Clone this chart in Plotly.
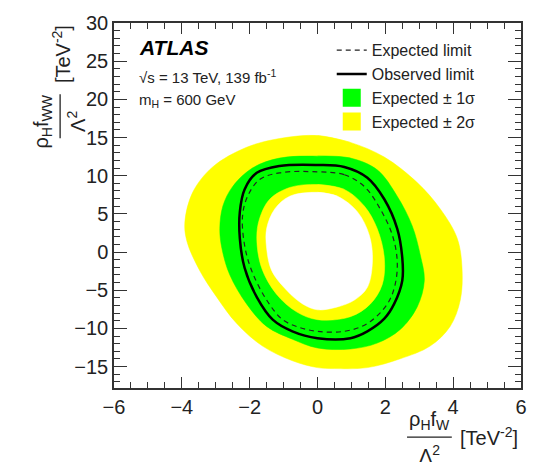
import plotly.graph_objects as go

# ---- data (x: rho_H f_W / Lambda^2, y: rho_H f_WW / Lambda^2, TeV^-2) ----
# outer boundary of the +-2 sigma band
band2_outer_x = [0, 0.97, 1.97, 2.94, 3.62, 4.12, 4.26, 4.21, 3.91, 3.32, 2.44, 1.47, 0.50, 0.0,
                 -0.74, -1.62, -2.38, -2.97, -3.47, -3.85, -3.91, -3.68, -3.09, -2.09, -1.12]
band2_outer_y = [15.26, 14.36, 12.44, 9.10, 5.64, 1.79, -2.05, -6.28, -9.74, -12.31, -13.97, -15.13, -15.26, -15.13,
                 -14.23, -12.31, -9.36, -5.90, -2.44, 1.41, 3.97, 7.82, 11.15, 13.72, 14.87]
# outer boundary of the +-1 sigma band
band1_outer_x = [0, 0.97, 1.76, 2.35, 2.79, 3.03, 3.15, 2.94, 2.44, 1.76, 0.97, 0.0,
                 -0.74, -1.50, -2.09, -2.59, -2.82, -2.88, -2.79, -2.50, -1.91, -1.12]
band1_outer_y = [12.56, 12.31, 10.77, 7.31, 3.46, -0.38, -3.72, -7.18, -10.13, -11.92, -12.69, -12.56,
                 -11.41, -9.74, -6.79, -2.95, 0.51, 3.08, 6.03, 8.59, 11.03, 12.31]
# inner boundary of the +-1 sigma band
band1_inner_x = [0, 0.79, 1.38, 1.76, 1.97, 1.91, 1.56, 0.97, 0.0, -0.62, -1.21, -1.65, -1.79, -1.71, -1.41, -0.82]
band1_inner_y = [8.85, 8.21, 6.03, 3.08, -0.77, -4.23, -6.79, -8.46, -8.85, -7.82, -5.51, -2.05, 1.79, 4.36, 6.92, 8.46]
# inner boundary of the +-2 sigma band
band2_inner_x = [0, 0.59, 1.18, 1.53, 1.62, 1.47, 1.09, 0.59, 0.0, -0.44, -0.91, -1.35, -1.50, -1.50, -1.26, -0.82]
band2_inner_y = [7.82, 7.31, 5.26, 2.18, -1.15, -4.62, -6.28, -7.18, -7.56, -6.79, -5.00, -2.44, 0.51, 3.08, 5.64, 7.31]
# expected limit
expected_x = [0, 0.79, 1.38, 1.85, 2.21, 2.35, 2.29, 2.06, 1.47, 0.79, 0.0, -0.53, -1.03, -1.50, -1.94, -2.15,
              -2.21, -2.06, -1.71, -1.12]
expected_y = [10.51, 10.13, 8.59, 5.64, 2.18, -1.15, -4.23, -6.79, -9.36, -10.38, -10.38, -9.87, -8.85, -6.28,
              -2.44, 0.90, 4.74, 7.31, 9.49, 10.38]
# observed limit
observed_x = [0, 0.79, 1.47, 1.97, 2.35, 2.50, 2.50, 2.26, 1.97, 1.47, 0.97, 0.0, -0.74, -1.32, -1.79, -2.15,
              -2.29, -2.29, -2.15, -1.79, -1.12]
observed_y = [11.41, 11.15, 9.74, 6.92, 3.08, -0.77, -3.72, -6.79, -8.72, -10.38, -11.28, -11.28, -10.38, -8.85,
              -5.90, -2.05, 1.79, 5.26, 8.21, 10.38, 11.28]

x_ticks = [-6, -4, -2, 0, 2, 4, 6]
y_ticks = [-15, -10, -5, 0, 5, 10, 15, 20, 25, 30]

YELLOW = "#ffff00"
GREEN = "#00ff00"
FONT = "Liberation Sans, Arial, sans-serif"


def closed(v):
    return list(v) + [v[0], v[1]]


fig = go.Figure()


def add_fill(xs, ys, color):
    fig.add_trace(go.Scatter(
        x=closed(xs), y=closed(ys), mode="lines",
        line=dict(width=0.5, color=color, shape="spline", smoothing=1),
        fill="toself", fillcolor=color, showlegend=False, hoverinfo="skip"))


add_fill(band2_outer_x, band2_outer_y, YELLOW)
add_fill(band1_outer_x, band1_outer_y, GREEN)
add_fill(band1_inner_x, band1_inner_y, YELLOW)
add_fill(band2_inner_x, band2_inner_y, "#ffffff")

fig.add_trace(go.Scatter(
    x=closed(expected_x)[:-1], y=closed(expected_y)[:-1], mode="lines", name="Expected limit",
    line=dict(color="#222222", width=1.2, dash="5px,4px", shape="spline", smoothing=1)))
fig.add_trace(go.Scatter(
    x=closed(observed_x)[:-1], y=closed(observed_y)[:-1], mode="lines", name="Observed limit",
    line=dict(color="#000000", width=2.5, shape="spline", smoothing=1)))
fig.add_trace(go.Scatter(
    x=[None], y=[None], mode="markers", name="Expected ± 1σ",
    marker=dict(symbol="square", size=20, color=GREEN, line=dict(color=GREEN, width=2))))
fig.add_trace(go.Scatter(
    x=[None], y=[None], mode="markers", name="Expected ± 2σ",
    marker=dict(symbol="square", size=20, color=YELLOW, line=dict(color=YELLOW, width=2))))

axis_common = dict(
    ticks="inside", tickwidth=1.3, tickcolor="#333333", showline=True, linecolor="#333333",
    linewidth=1.5, mirror="ticks", showgrid=False, zeroline=False,
    tickfont=dict(family=FONT, size=20, color="#222222"),
)

fig.update_layout(
    width=539, height=462,
    margin=dict(l=114, r=17, t=16, b=74),
    paper_bgcolor="white", plot_bgcolor="white",
    font=dict(family=FONT, color="#222222"),
    xaxis=dict(range=[-6, 6], tickvals=x_ticks, ticklen=11,
               minor=dict(ticks="inside", dtick=0.5, ticklen=6, tickcolor="#333333", tickwidth=1), **axis_common),
    yaxis=dict(range=[-17.8, 30], tickvals=y_ticks, ticklen=13,
               minor=dict(ticks="inside", dtick=1, ticklen=6, tickcolor="#333333", tickwidth=1), **axis_common),
    legend=dict(x=0.535, y=0.972, xanchor="left", yanchor="top", bgcolor="rgba(0,0,0,0)",
                font=dict(family=FONT, size=16, color="#222222"), tracegroupgap=0,
                itemwidth=30),
    showlegend=True,
)

ann = []
# ATLAS label block
ann.append(dict(x=0.057, y=0.934, xref="paper", yref="paper", xanchor="left", yanchor="middle",
                text="<b><i>ATLAS</i></b>", showarrow=False, font=dict(family=FONT, size=21, color="black")))
ann.append(dict(x=0.057, y=0.854, xref="paper", yref="paper", xanchor="left", yanchor="middle",
                text="√s = 13 TeV, 139 fb<sup>-1</sup>", showarrow=False,
                font=dict(family=FONT, size=15, color="#222222")))
ann.append(dict(x=0.057, y=0.789, xref="paper", yref="paper", xanchor="left", yanchor="middle",
                text="m<sub>H</sub> = 600 GeV", showarrow=False,
                font=dict(family=FONT, size=15, color="#222222")))

# x-axis title (fraction)
ann.append(dict(x=0.775, y=-0.089, xref="paper", yref="paper", xanchor="center", yanchor="middle",
                text="ρ<sub>H</sub>f<sub>W</sub>", showarrow=False, font=dict(family=FONT, size=20, color="#222222")))
ann.append(dict(x=0.775, y=-0.183, xref="paper", yref="paper", xanchor="center", yanchor="middle",
                text="Λ<sup>2</sup>", showarrow=False, font=dict(family=FONT, size=20, color="#222222")))
ann.append(dict(x=0.922, y=-0.134, xref="paper", yref="paper", xanchor="center", yanchor="middle",
                text="[TeV<sup>-2</sup>]", showarrow=False, font=dict(family=FONT, size=20, color="#222222")))
# y-axis title (fraction, rotated)
ann.append(dict(x=-0.176, y=0.731, xref="paper", yref="paper", xanchor="center", yanchor="middle", textangle=-90,
                text="ρ<sub>H</sub>f<sub>WW</sub>", showarrow=False, font=dict(family=FONT, size=20, color="#222222")))
ann.append(dict(x=-0.094, y=0.731, xref="paper", yref="paper", xanchor="center", yanchor="middle", textangle=-90,
                text="Λ<sup>2</sup>", showarrow=False, font=dict(family=FONT, size=20, color="#222222")))
ann.append(dict(x=-0.130, y=0.915, xref="paper", yref="paper", xanchor="center", yanchor="middle", textangle=-90,
                text="[TeV<sup>-2</sup>]", showarrow=False, font=dict(family=FONT, size=20, color="#222222")))
fig.update_layout(annotations=ann)

fig.add_shape(type="line", xref="paper", yref="paper", x0=0.72, x1=0.83, y0=-0.1344, y1=-0.1344,
              line=dict(color="#222222", width=1.3))
fig.add_shape(type="line", xref="paper", yref="paper", x0=-0.1324, x1=-0.1324, y0=0.684, y1=0.805,
              line=dict(color="#222222", width=1.3))

fig.write_html("out.html")
